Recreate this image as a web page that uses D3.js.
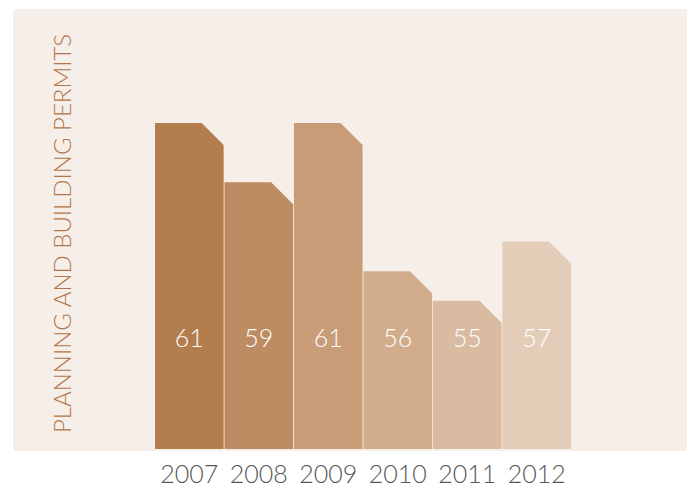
<!DOCTYPE html>
<html>
<head>
<meta charset="utf-8">
<script src="https://cdn.jsdelivr.net/npm/d3@7"></script>
<style>
  html, body { margin: 0; padding: 0; background: #ffffff; }
  svg { display: block; }
</style>
</head>
<body>
<div id="chart"></div>
<script>
const years = ["2007", "2008", "2009", "2010", "2011", "2012"];
const permits = [61, 59, 61, 56, 55, 57];
const barColors = ["#b37d4e", "#bd8c63", "#c79c77", "#d1ad8c", "#d8bba0", "#e3cdb9"];
const yTitle = "PLANNING AND BUILDING PERMITS";

const W = 690, H = 488;
const panel = { x: 13, y: 9, w: 674, h: 442 };
const plot = { left: 155, right: 571, top: 123, bottom: 449 };
const chamfer = 22;

const svg = d3.select("#chart").append("svg")
  .attr("width", W).attr("height", H);

svg.append("rect")
  .attr("x", panel.x).attr("y", panel.y)
  .attr("width", panel.w).attr("height", panel.h)
  .attr("fill", "#f6eee9");

const x = d3.scaleBand().domain(years).range([plot.left, plot.right]).paddingInner(0.012).paddingOuter(0);
const y = d3.scaleLinear().domain([50, 61]).range([plot.bottom, plot.top]);

const data = years.map((yr, i) => ({ year: yr, value: permits[i], color: barColors[i] }));

svg.append("g").selectAll("path")
  .data(data)
  .join("path")
  .attr("fill", d => d.color)
  .attr("d", d => {
    const x0 = x(d.year), x1 = x0 + x.bandwidth();
    const yt = y(d.value), yb = plot.bottom;
    return `M${x0},${yb}L${x0},${yt}L${x1 - chamfer},${yt}L${x1},${yt + chamfer}L${x1},${yb}Z`;
  });

svg.append("g").selectAll("text")
  .data(data)
  .join("text")
  .attr("x", d => x(d.year) + x.bandwidth() / 2)
  .attr("y", 347)
  .attr("text-anchor", "middle")
  .attr("fill", "#ffffff")
  .attr("font-family", "Lato, 'Open Sans', sans-serif")
  .attr("font-weight", 300)
  .attr("font-size", 25)
  .text(d => d.value);

const xAxis = svg.append("g")
  .attr("transform", `translate(0,${plot.bottom})`)
  .call(d3.axisBottom(x).tickSize(0).tickPadding(16));
xAxis.select(".domain").remove();
xAxis.selectAll("text")
  .attr("dy", "0.71em")
  .attr("fill", "#555555")
  .attr("font-family", "Lato, 'Open Sans', sans-serif")
  .attr("font-weight", 300)
  .attr("font-size", 25);

svg.append("text")
  .attr("transform", `translate(71,${(37 + 430) / 2}) rotate(-90)`)
  .attr("text-anchor", "middle")
  .attr("fill", "#b3764a")
  .attr("font-family", "Lato, 'Open Sans', sans-serif")
  .attr("font-weight", 300)
  .attr("font-size", 24)
  .text(yTitle);
</script>
</body>
</html>
